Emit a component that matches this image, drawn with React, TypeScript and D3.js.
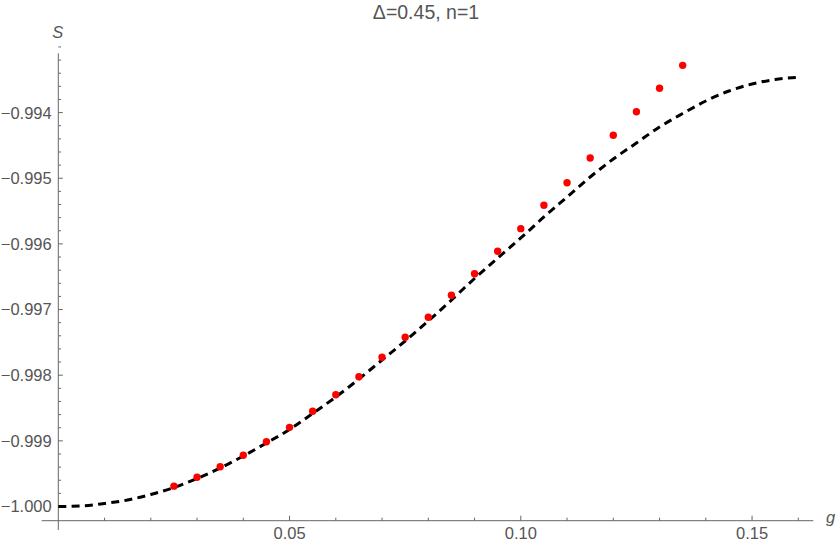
import React from "react";
import * as d3 from "d3";

const curveG = [0, 0.005, 0.01, 0.015, 0.02, 0.025, 0.03, 0.035, 0.04, 0.045, 0.05, 0.055, 0.06, 0.065, 0.07, 0.075, 0.08, 0.085, 0.09, 0.095, 0.1, 0.105, 0.11, 0.115, 0.12, 0.125, 0.13, 0.135, 0.14, 0.145, 0.15, 0.155, 0.16];
const curveS = [-1.0, -0.999992, -0.999954, -0.999901, -0.999817, -0.999711, -0.999573, -0.999414, -0.999231, -0.999033, -0.998827, -0.998583, -0.998332, -0.998058, -0.997768, -0.997479, -0.997174, -0.996855, -0.996527, -0.996215, -0.99591, -0.99559, -0.995286, -0.994981, -0.994707, -0.994463, -0.994219, -0.994014, -0.993823, -0.993671, -0.993564, -0.993496, -0.993462];

const pointG = [0.025, 0.03, 0.035, 0.04, 0.045, 0.05, 0.055, 0.06, 0.065, 0.07, 0.075, 0.08, 0.085, 0.09, 0.095, 0.1, 0.105, 0.11, 0.115, 0.12, 0.125, 0.13, 0.135];
const pointS = [-0.99969, -0.999555, -0.999394, -0.99922, -0.999013, -0.998794, -0.99855, -0.998297, -0.998023, -0.997727, -0.997423, -0.997118, -0.996783, -0.996454, -0.996113, -0.995768, -0.995412, -0.995068, -0.994692, -0.994346, -0.993986, -0.99363, -0.99328];

const xMajor = [0.05, 0.1, 0.15];
const xLabels = ["0.05", "0.10", "0.15"];
const yMajor = [-1.0, -0.999, -0.998, -0.997, -0.996, -0.995, -0.994];
const yLabels = ["\u22121.000", "\u22120.999", "\u22120.998", "\u22120.997", "\u22120.996", "\u22120.995", "\u22120.994"];

const title = "\u0394=0.45, n=1";

export default function App() {
  const W = 837, H = 545;
  const x = d3.scaleLinear().domain([0, 0.16]).range([58.3, 58.3 + 0.16 * 4625]);
  const y = d3.scaleLinear().domain([-1, -0.994]).range([506.5, 112.6]);
  const axisY = 520.7;
  const axisX = x(0);
  const font = "'Liberation Sans', Arial, sans-serif";

  const xMinor = d3.range(1, 17).map((i) => i * 0.01).filter((v) => !xMajor.some((m) => Math.abs(m - v) < 1e-9));
  const yMinor = d3.range(0, 36).map((i) => -1 + i * 0.0002).filter((v) => !yMajor.some((m) => Math.abs(m - v) < 1e-9));

  const line = d3
    .line<number>()
    .x((_, i) => x(curveG[i]))
    .y((d) => y(d))
    .curve(d3.curveMonotoneX);

  return (
    <svg width={W} height={H} style={{ position: "absolute", left: 0, top: 0, background: "#fff" }} fontFamily={font}>
      <text x={426} y={18.5} textAnchor="middle" fontSize={19.5} fill="#555">{title}</text>
      <line x1={41.7} x2={813.3} y1={axisY} y2={axisY} stroke="#666" strokeWidth={1} />
      <line x1={axisX} x2={axisX} y1={53.3} y2={530} stroke="#666" strokeWidth={1} />
      {xMajor.map((v, i) => (
        <g key={"xm" + i}>
          <line x1={x(v)} x2={x(v)} y1={axisY} y2={axisY - 5} stroke="#666" />
          <text x={x(v)} y={538.5} textAnchor="middle" fontSize={16.5} fill="#555">{xLabels[i]}</text>
        </g>
      ))}
      {xMinor.map((v, i) => (
        <line key={"xn" + i} x1={x(v)} x2={x(v)} y1={axisY} y2={axisY - 3} stroke="#666" />
      ))}
      {yMajor.map((v, i) => (
        <g key={"ym" + i}>
          <line x1={axisX} x2={axisX + 4.5} y1={y(v)} y2={y(v)} stroke="#666" />
          <text x={51.7} y={y(v)} dy="0.36em" textAnchor="end" fontSize={16.5} fill="#555">{yLabels[i]}</text>
        </g>
      ))}
      {yMinor.map((v, i) => (
        <line key={"yn" + i} x1={axisX} x2={axisX + 2.7} y1={y(v)} y2={y(v)} stroke="#666" />
      ))}
      <text x={57.7} y={38.3} textAnchor="middle" fontSize={16.5} fontStyle="italic" fill="#555">S</text>
      <text x={826} y={523} fontSize={16.5} fontStyle="italic" fill="#555">g</text>
      <path d={line(curveS) || ""} fill="none" stroke="#000" strokeWidth={3} strokeDasharray="8,5.3" />
      {pointS.map((s, i) => (
        <circle key={"p" + i} cx={x(pointG[i])} cy={y(s)} r={3.7} fill="#ff0000" />
      ))}
    </svg>
  );
}
